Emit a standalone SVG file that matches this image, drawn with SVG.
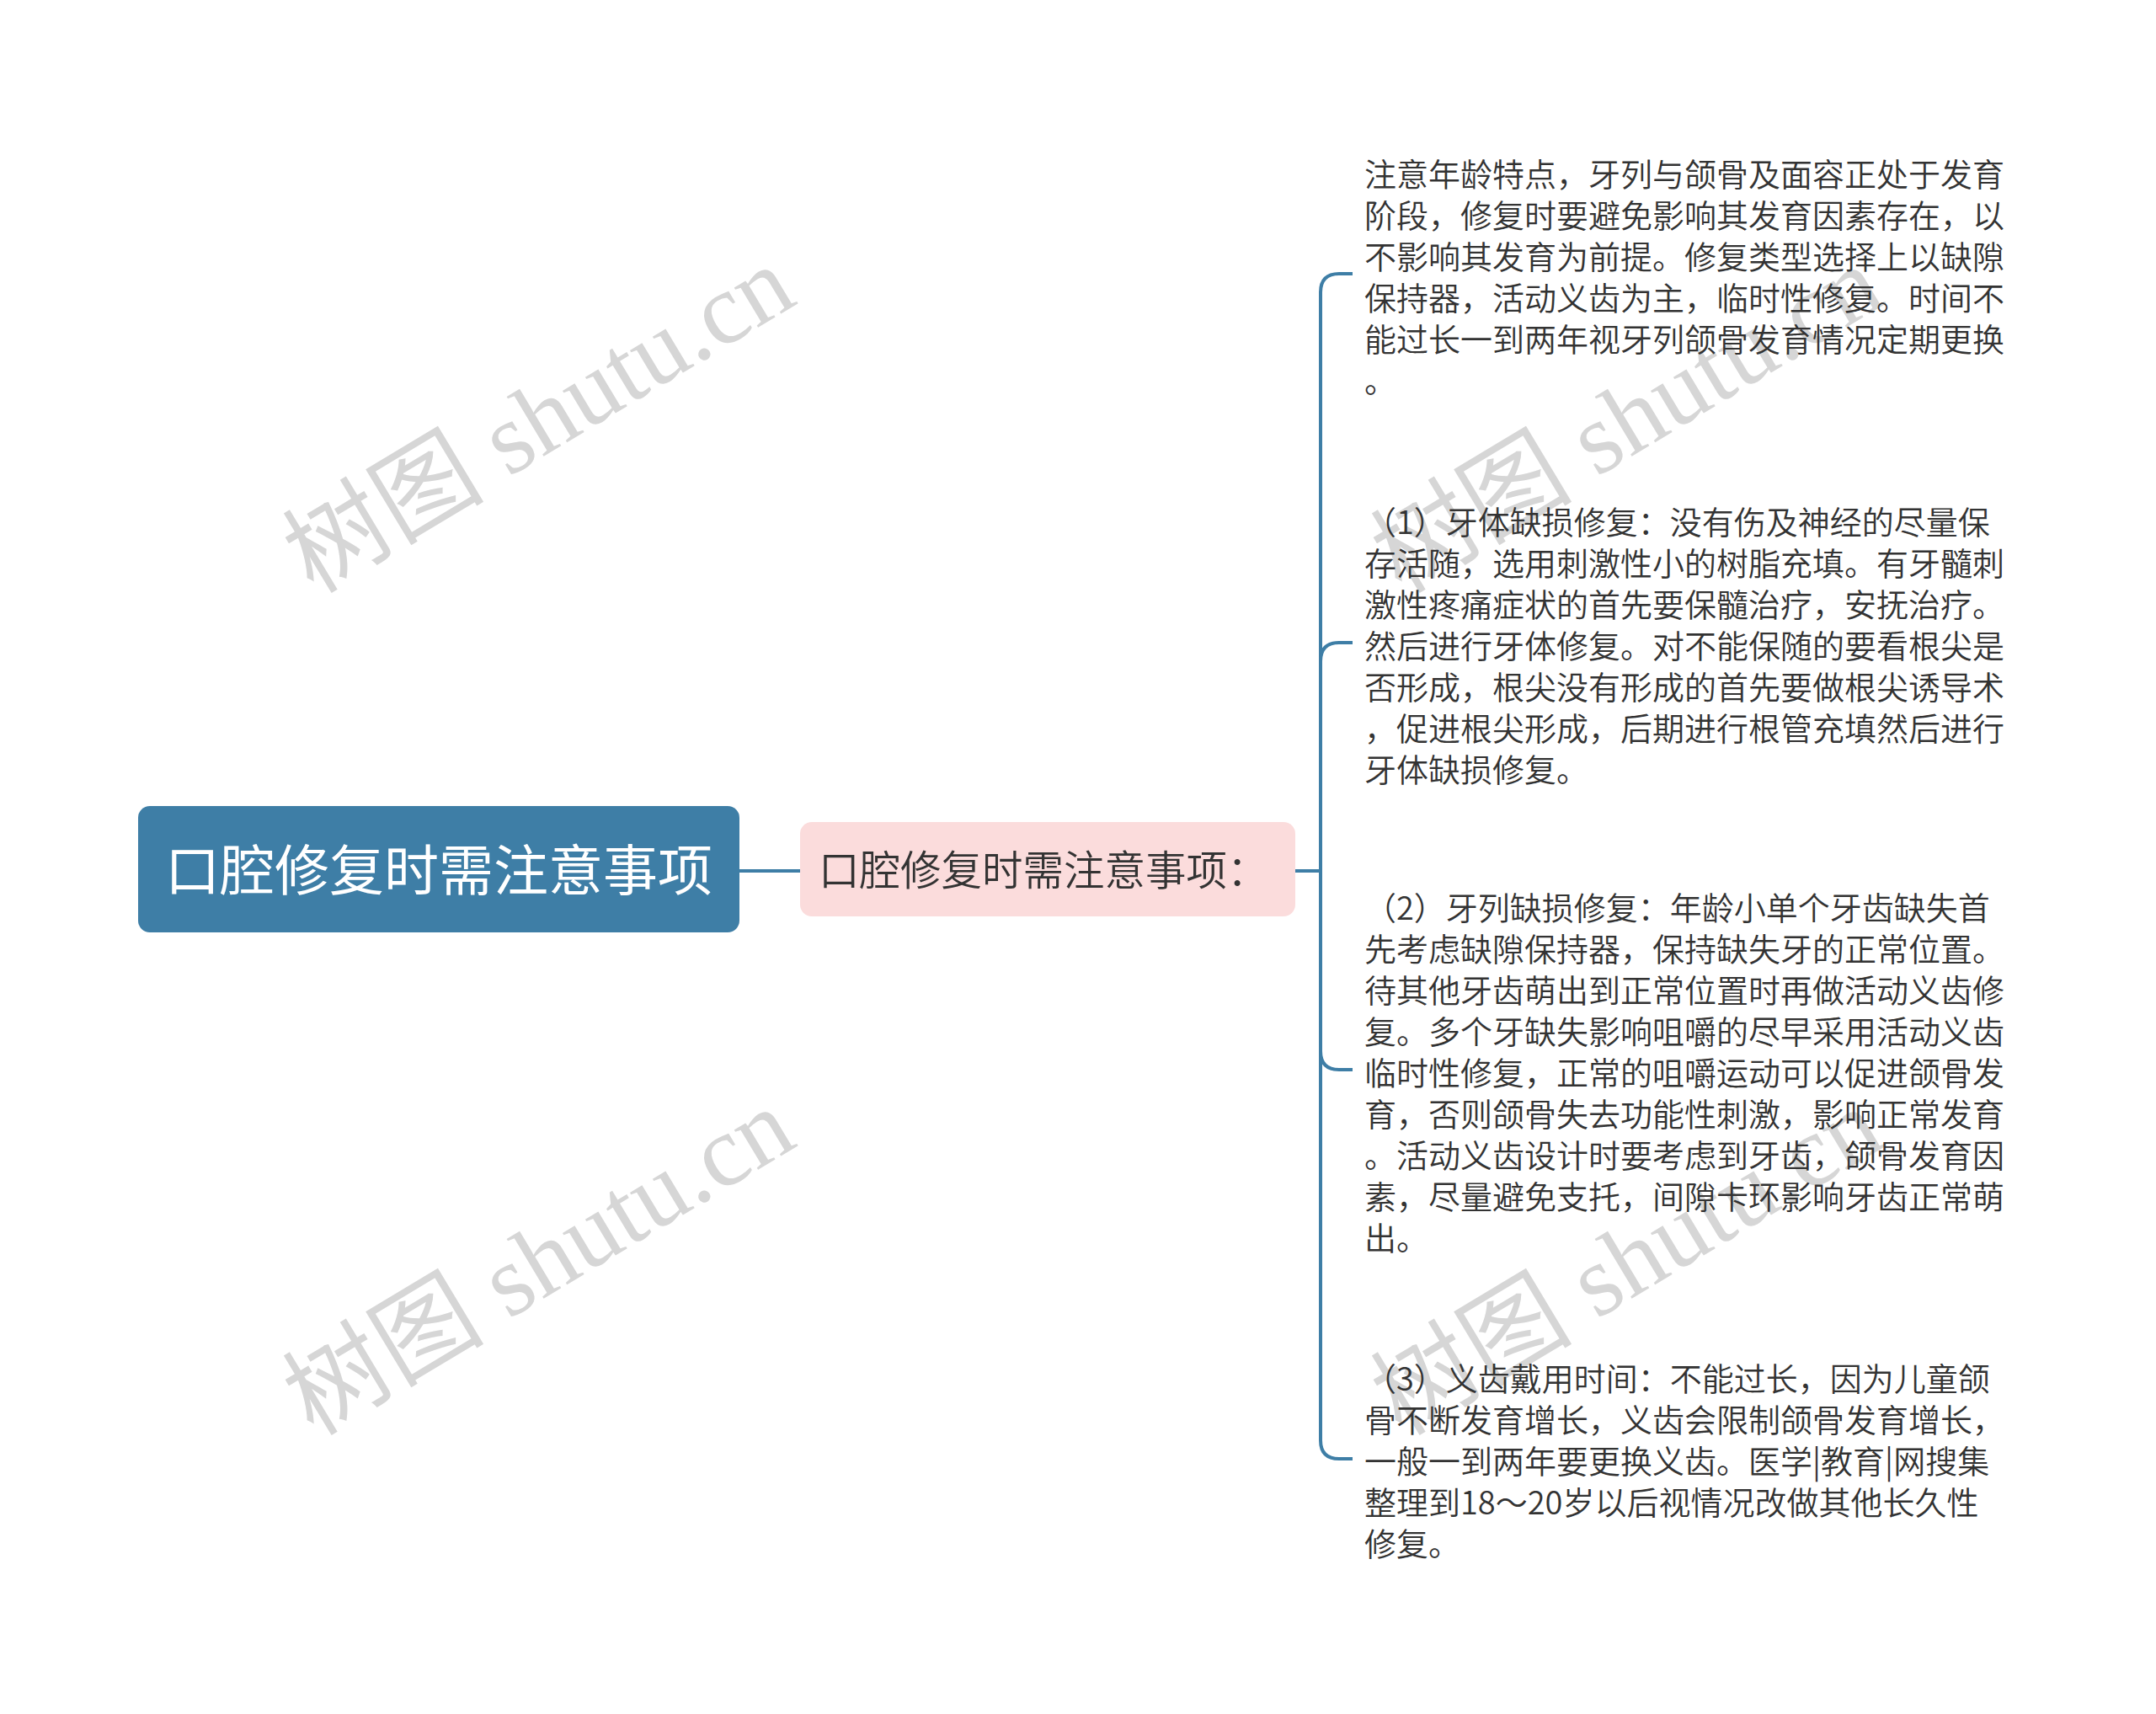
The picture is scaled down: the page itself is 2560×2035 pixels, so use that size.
<svg xmlns="http://www.w3.org/2000/svg" width="2560" height="2035" viewBox="0 0 2560 2035">
<style>
.wm{font-family:"Liberation Serif","Noto Sans CJK SC",serif;font-size:120px;fill:#d6d6d6;}
.leaf{font-family:"Noto Sans CJK SC","Noto Sans",sans-serif;font-size:38px;font-weight:350;fill:#333333;}
.conn{fill:none;stroke:#3e7ea6;stroke-width:4;}
</style>
<rect width="2560" height="2035" fill="#ffffff"/>
<g id="watermarks">
<text class="wm" x="372" y="706" transform="rotate(-31 372 706)">树图 shutu.cn</text>
<text class="wm" x="372" y="1706" transform="rotate(-31 372 1706)">树图 shutu.cn</text>
<text class="wm" x="1664" y="706" transform="rotate(-31 1664 706)">树图 shutu.cn</text>
<text class="wm" x="1664" y="1706" transform="rotate(-31 1664 1706)">树图 shutu.cn</text>
</g>
<g id="connectors">
<path class="conn" d="M878 1034 H950"/>
<path class="conn" d="M1538 1034 H1568 V347 Q1568 325 1590 325 H1606"/>
<path class="conn" d="M1568 1034 V785 Q1568 763 1590 763 H1606"/>
<path class="conn" d="M1568 1034 V1248 Q1568 1270 1590 1270 H1606"/>
<path class="conn" d="M1568 1034 V1710 Q1568 1732 1590 1732 H1606"/>
</g>
<g id="root">
<rect x="164" y="957" width="714" height="150" rx="14" fill="#3e7ea6"/>
<text x="521" y="1057" text-anchor="middle" font-family="Noto Sans CJK SC, Noto Sans, sans-serif" font-size="65" fill="#ffffff">口腔修复时需注意事项</text>
</g>
<g id="child">
<rect x="950" y="976" width="588" height="112" rx="14" fill="#fbdcdc"/>
<text x="972" y="1051" font-family="Noto Sans CJK SC, Noto Sans, sans-serif" font-size="48.5" font-weight="350" fill="#333333">口腔修复时需注意事项：</text>
</g>
<g id="leaf1">
<text class="leaf" x="1620" y="221">
<tspan x="1620" y="221">注意年龄特点，牙列与颌骨及面容正处于发育</tspan>
<tspan x="1620" y="270">阶段，修复时要避免影响其发育因素存在，以</tspan>
<tspan x="1620" y="319">不影响其发育为前提。修复类型选择上以缺隙</tspan>
<tspan x="1620" y="368">保持器，活动义齿为主，临时性修复。时间不</tspan>
<tspan x="1620" y="417">能过长一到两年视牙列颌骨发育情况定期更换</tspan>
<tspan x="1620" y="466">。</tspan>
</text>
</g>
<g id="leaf2">
<text class="leaf" x="1620" y="634">
<tspan x="1620" y="634">（1）牙体缺损修复：没有伤及神经的尽量保</tspan>
<tspan x="1620" y="683">存活随，选用刺激性小的树脂充填。有牙髓刺</tspan>
<tspan x="1620" y="732">激性疼痛症状的首先要保髓治疗，安抚治疗。</tspan>
<tspan x="1620" y="781">然后进行牙体修复。对不能保随的要看根尖是</tspan>
<tspan x="1620" y="830">否形成，根尖没有形成的首先要做根尖诱导术</tspan>
<tspan x="1620" y="879">，促进根尖形成，后期进行根管充填然后进行</tspan>
<tspan x="1620" y="928">牙体缺损修复。</tspan>
</text>
</g>
<g id="leaf3">
<text class="leaf" x="1620" y="1092">
<tspan x="1620" y="1092">（2）牙列缺损修复：年龄小单个牙齿缺失首</tspan>
<tspan x="1620" y="1141">先考虑缺隙保持器，保持缺失牙的正常位置。</tspan>
<tspan x="1620" y="1190">待其他牙齿萌出到正常位置时再做活动义齿修</tspan>
<tspan x="1620" y="1239">复。多个牙缺失影响咀嚼的尽早采用活动义齿</tspan>
<tspan x="1620" y="1288">临时性修复，正常的咀嚼运动可以促进颌骨发</tspan>
<tspan x="1620" y="1337">育，否则颌骨失去功能性刺激，影响正常发育</tspan>
<tspan x="1620" y="1386">。活动义齿设计时要考虑到牙齿，颌骨发育因</tspan>
<tspan x="1620" y="1435">素，尽量避免支托，间隙卡环影响牙齿正常萌</tspan>
<tspan x="1620" y="1484">出。</tspan>
</text>
</g>
<g id="leaf4">
<text class="leaf" x="1620" y="1651">
<tspan x="1620" y="1651">（3）义齿戴用时间：不能过长，因为儿童颌</tspan>
<tspan x="1620" y="1700">骨不断发育增长，义齿会限制颌骨发育增长，</tspan>
<tspan x="1620" y="1749">一般一到两年要更换义齿。医学|教育|网搜集</tspan>
<tspan x="1620" y="1798">整理到18～20岁以后视情况改做其他长久性</tspan>
<tspan x="1620" y="1847">修复。</tspan>
</text>
</g>
</svg>
